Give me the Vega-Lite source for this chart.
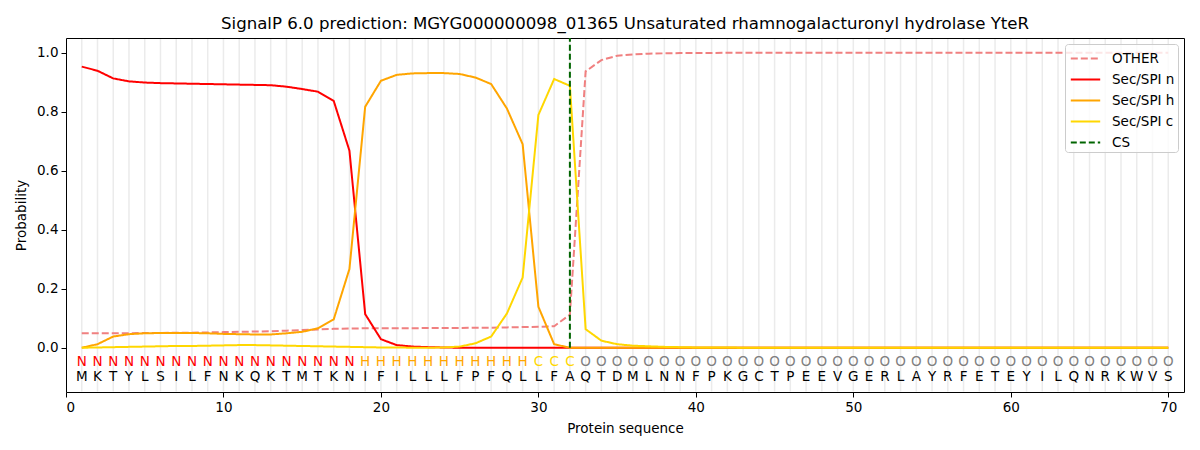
{
  "$schema": "https://vega.github.io/schema/vega-lite/v6.json",
  "width": 1118,
  "height": 354,
  "autosize": "none",
  "padding": {"left": 66, "top": 38, "right": 16, "bottom": 58},
  "title": {
    "text": "SignalP 6.0 prediction: MGYG000000098_01365 Unsaturated rhamnogalacturonyl hydrolase YteR",
    "fontSize": 16.6,
    "fontWeight": "normal",
    "color": "black",
    "anchor": "middle",
    "frame": "group",
    "offset": 5,
    "dy": 17,
    "baseline": "bottom"
  },
  "config": {
    "font": "DejaVu Sans",
    "view": {"stroke": "black", "strokeWidth": 1},
    "axis": {
      "domain": false,
      "grid": false,
      "tickColor": "black",
      "tickSize": 5,
      "tickWidth": 1,
      "labelColor": "black",
      "labelFontSize": 13.5,
      "labelPadding": 3,
      "titleColor": "black",
      "titleFontSize": 13.5,
      "titleFontWeight": "normal"
    },
    "legend": {
      "orient": "top-right",
      "offset": 6,
      "title": null,
      "fillColor": "rgba(255,255,255,0.8)",
      "strokeColor": "#cccccc",
      "cornerRadius": 3,
      "padding": 3,
      "labelFontSize": 13.5,
      "labelColor": "black",
      "symbolType": "M-1.4,0L1.4,0",
      "symbolSize": 441,
      "symbolStrokeWidth": 2,
      "symbolOffset": 6,
      "rowPadding": 3,
      "labelOffset": 15
    }
  },
  "datasets": {
    "seq": [
      {"pos":1,"aa":"M","lab":"N"},{"pos":2,"aa":"K","lab":"N"},{"pos":3,"aa":"T","lab":"N"},{"pos":4,"aa":"Y","lab":"N"},{"pos":5,"aa":"L","lab":"N"},
      {"pos":6,"aa":"S","lab":"N"},{"pos":7,"aa":"I","lab":"N"},{"pos":8,"aa":"L","lab":"N"},{"pos":9,"aa":"F","lab":"N"},{"pos":10,"aa":"N","lab":"N"},
      {"pos":11,"aa":"K","lab":"N"},{"pos":12,"aa":"Q","lab":"N"},{"pos":13,"aa":"K","lab":"N"},{"pos":14,"aa":"T","lab":"N"},{"pos":15,"aa":"M","lab":"N"},
      {"pos":16,"aa":"T","lab":"N"},{"pos":17,"aa":"K","lab":"N"},{"pos":18,"aa":"N","lab":"N"},{"pos":19,"aa":"I","lab":"H"},{"pos":20,"aa":"F","lab":"H"},
      {"pos":21,"aa":"I","lab":"H"},{"pos":22,"aa":"L","lab":"H"},{"pos":23,"aa":"L","lab":"H"},{"pos":24,"aa":"L","lab":"H"},{"pos":25,"aa":"F","lab":"H"},
      {"pos":26,"aa":"P","lab":"H"},{"pos":27,"aa":"F","lab":"H"},{"pos":28,"aa":"Q","lab":"H"},{"pos":29,"aa":"L","lab":"H"},{"pos":30,"aa":"L","lab":"C"},
      {"pos":31,"aa":"F","lab":"C"},{"pos":32,"aa":"A","lab":"C"},{"pos":33,"aa":"Q","lab":"O"},{"pos":34,"aa":"T","lab":"O"},{"pos":35,"aa":"D","lab":"O"},
      {"pos":36,"aa":"M","lab":"O"},{"pos":37,"aa":"L","lab":"O"},{"pos":38,"aa":"N","lab":"O"},{"pos":39,"aa":"N","lab":"O"},{"pos":40,"aa":"F","lab":"O"},
      {"pos":41,"aa":"P","lab":"O"},{"pos":42,"aa":"K","lab":"O"},{"pos":43,"aa":"G","lab":"O"},{"pos":44,"aa":"C","lab":"O"},{"pos":45,"aa":"T","lab":"O"},
      {"pos":46,"aa":"P","lab":"O"},{"pos":47,"aa":"E","lab":"O"},{"pos":48,"aa":"E","lab":"O"},{"pos":49,"aa":"V","lab":"O"},{"pos":50,"aa":"G","lab":"O"},
      {"pos":51,"aa":"E","lab":"O"},{"pos":52,"aa":"R","lab":"O"},{"pos":53,"aa":"L","lab":"O"},{"pos":54,"aa":"A","lab":"O"},{"pos":55,"aa":"Y","lab":"O"},
      {"pos":56,"aa":"R","lab":"O"},{"pos":57,"aa":"F","lab":"O"},{"pos":58,"aa":"E","lab":"O"},{"pos":59,"aa":"T","lab":"O"},{"pos":60,"aa":"E","lab":"O"},
      {"pos":61,"aa":"Y","lab":"O"},{"pos":62,"aa":"I","lab":"O"},{"pos":63,"aa":"L","lab":"O"},{"pos":64,"aa":"Q","lab":"O"},{"pos":65,"aa":"N","lab":"O"},
      {"pos":66,"aa":"R","lab":"O"},{"pos":67,"aa":"K","lab":"O"},{"pos":68,"aa":"W","lab":"O"},{"pos":69,"aa":"V","lab":"O"},{"pos":70,"aa":"S","lab":"O"}
    ],
    "probs": [
      {"pos":1,"OTHER":0.049,"Sec/SPI n":0.953,"Sec/SPI h":0.000,"Sec/SPI c":0.000},
      {"pos":2,"OTHER":0.049,"Sec/SPI n":0.939,"Sec/SPI h":0.012,"Sec/SPI c":0.001},
      {"pos":3,"OTHER":0.049,"Sec/SPI n":0.913,"Sec/SPI h":0.038,"Sec/SPI c":0.002},
      {"pos":4,"OTHER":0.049,"Sec/SPI n":0.903,"Sec/SPI h":0.046,"Sec/SPI c":0.003},
      {"pos":5,"OTHER":0.050,"Sec/SPI n":0.899,"Sec/SPI h":0.049,"Sec/SPI c":0.004},
      {"pos":6,"OTHER":0.050,"Sec/SPI n":0.897,"Sec/SPI h":0.050,"Sec/SPI c":0.005},
      {"pos":7,"OTHER":0.051,"Sec/SPI n":0.896,"Sec/SPI h":0.050,"Sec/SPI c":0.006},
      {"pos":8,"OTHER":0.051,"Sec/SPI n":0.895,"Sec/SPI h":0.050,"Sec/SPI c":0.006},
      {"pos":9,"OTHER":0.052,"Sec/SPI n":0.894,"Sec/SPI h":0.049,"Sec/SPI c":0.007},
      {"pos":10,"OTHER":0.053,"Sec/SPI n":0.893,"Sec/SPI h":0.047,"Sec/SPI c":0.008},
      {"pos":11,"OTHER":0.054,"Sec/SPI n":0.892,"Sec/SPI h":0.046,"Sec/SPI c":0.009},
      {"pos":12,"OTHER":0.055,"Sec/SPI n":0.891,"Sec/SPI h":0.045,"Sec/SPI c":0.009},
      {"pos":13,"OTHER":0.056,"Sec/SPI n":0.890,"Sec/SPI h":0.045,"Sec/SPI c":0.008},
      {"pos":14,"OTHER":0.058,"Sec/SPI n":0.885,"Sec/SPI h":0.049,"Sec/SPI c":0.007},
      {"pos":15,"OTHER":0.060,"Sec/SPI n":0.877,"Sec/SPI h":0.054,"Sec/SPI c":0.006},
      {"pos":16,"OTHER":0.062,"Sec/SPI n":0.868,"Sec/SPI h":0.066,"Sec/SPI c":0.005},
      {"pos":17,"OTHER":0.064,"Sec/SPI n":0.837,"Sec/SPI h":0.096,"Sec/SPI c":0.004},
      {"pos":18,"OTHER":0.065,"Sec/SPI n":0.668,"Sec/SPI h":0.267,"Sec/SPI c":0.003},
      {"pos":19,"OTHER":0.066,"Sec/SPI n":0.114,"Sec/SPI h":0.817,"Sec/SPI c":0.002},
      {"pos":20,"OTHER":0.066,"Sec/SPI n":0.029,"Sec/SPI h":0.905,"Sec/SPI c":0.001},
      {"pos":21,"OTHER":0.066,"Sec/SPI n":0.009,"Sec/SPI h":0.925,"Sec/SPI c":0.001},
      {"pos":22,"OTHER":0.066,"Sec/SPI n":0.004,"Sec/SPI h":0.930,"Sec/SPI c":0.000},
      {"pos":23,"OTHER":0.067,"Sec/SPI n":0.002,"Sec/SPI h":0.931,"Sec/SPI c":0.000},
      {"pos":24,"OTHER":0.067,"Sec/SPI n":0.001,"Sec/SPI h":0.931,"Sec/SPI c":0.001},
      {"pos":25,"OTHER":0.067,"Sec/SPI n":0.000,"Sec/SPI h":0.928,"Sec/SPI c":0.004},
      {"pos":26,"OTHER":0.068,"Sec/SPI n":0.000,"Sec/SPI h":0.916,"Sec/SPI c":0.015},
      {"pos":27,"OTHER":0.068,"Sec/SPI n":0.000,"Sec/SPI h":0.894,"Sec/SPI c":0.038},
      {"pos":28,"OTHER":0.069,"Sec/SPI n":0.000,"Sec/SPI h":0.811,"Sec/SPI c":0.116},
      {"pos":29,"OTHER":0.070,"Sec/SPI n":0.000,"Sec/SPI h":0.690,"Sec/SPI c":0.238},
      {"pos":30,"OTHER":0.071,"Sec/SPI n":0.000,"Sec/SPI h":0.139,"Sec/SPI c":0.789},
      {"pos":31,"OTHER":0.073,"Sec/SPI n":0.000,"Sec/SPI h":0.012,"Sec/SPI c":0.911},
      {"pos":32,"OTHER":0.112,"Sec/SPI n":0.000,"Sec/SPI h":0.000,"Sec/SPI c":0.888},
      {"pos":33,"OTHER":0.937,"Sec/SPI n":0.000,"Sec/SPI h":0.000,"Sec/SPI c":0.063},
      {"pos":34,"OTHER":0.975,"Sec/SPI n":0.000,"Sec/SPI h":0.000,"Sec/SPI c":0.024},
      {"pos":35,"OTHER":0.990,"Sec/SPI n":0.000,"Sec/SPI h":0.000,"Sec/SPI c":0.012},
      {"pos":36,"OTHER":0.994,"Sec/SPI n":0.000,"Sec/SPI h":0.000,"Sec/SPI c":0.007},
      {"pos":37,"OTHER":0.997,"Sec/SPI n":0.000,"Sec/SPI h":0.000,"Sec/SPI c":0.005},
      {"pos":38,"OTHER":0.998,"Sec/SPI n":0.000,"Sec/SPI h":0.000,"Sec/SPI c":0.003},
      {"pos":39,"OTHER":0.999,"Sec/SPI n":0.000,"Sec/SPI h":0.000,"Sec/SPI c":0.002},
      {"pos":40,"OTHER":0.999,"Sec/SPI n":0.000,"Sec/SPI h":0.000,"Sec/SPI c":0.001},
      {"pos":41,"OTHER":0.999,"Sec/SPI n":0.000,"Sec/SPI h":0.000,"Sec/SPI c":0.001},
      {"pos":42,"OTHER":1.000,"Sec/SPI n":0.000,"Sec/SPI h":0.000,"Sec/SPI c":0.001},
      {"pos":43,"OTHER":1.000,"Sec/SPI n":0.000,"Sec/SPI h":0.000,"Sec/SPI c":0.000},
      {"pos":44,"OTHER":1.000,"Sec/SPI n":0.000,"Sec/SPI h":0.000,"Sec/SPI c":0.000},
      {"pos":45,"OTHER":1.000,"Sec/SPI n":0.000,"Sec/SPI h":0.000,"Sec/SPI c":0.000},
      {"pos":46,"OTHER":1.000,"Sec/SPI n":0.000,"Sec/SPI h":0.000,"Sec/SPI c":0.000},
      {"pos":47,"OTHER":1.000,"Sec/SPI n":0.000,"Sec/SPI h":0.000,"Sec/SPI c":0.000},
      {"pos":48,"OTHER":1.000,"Sec/SPI n":0.000,"Sec/SPI h":0.000,"Sec/SPI c":0.000},
      {"pos":49,"OTHER":1.000,"Sec/SPI n":0.000,"Sec/SPI h":0.000,"Sec/SPI c":0.000},
      {"pos":50,"OTHER":1.000,"Sec/SPI n":0.000,"Sec/SPI h":0.000,"Sec/SPI c":0.000},
      {"pos":51,"OTHER":1.000,"Sec/SPI n":0.000,"Sec/SPI h":0.000,"Sec/SPI c":0.000},
      {"pos":52,"OTHER":1.000,"Sec/SPI n":0.000,"Sec/SPI h":0.000,"Sec/SPI c":0.000},
      {"pos":53,"OTHER":1.000,"Sec/SPI n":0.000,"Sec/SPI h":0.000,"Sec/SPI c":0.000},
      {"pos":54,"OTHER":1.000,"Sec/SPI n":0.000,"Sec/SPI h":0.000,"Sec/SPI c":0.000},
      {"pos":55,"OTHER":1.000,"Sec/SPI n":0.000,"Sec/SPI h":0.000,"Sec/SPI c":0.000},
      {"pos":56,"OTHER":1.000,"Sec/SPI n":0.000,"Sec/SPI h":0.000,"Sec/SPI c":0.000},
      {"pos":57,"OTHER":1.000,"Sec/SPI n":0.000,"Sec/SPI h":0.000,"Sec/SPI c":0.000},
      {"pos":58,"OTHER":1.000,"Sec/SPI n":0.000,"Sec/SPI h":0.000,"Sec/SPI c":0.000},
      {"pos":59,"OTHER":1.000,"Sec/SPI n":0.000,"Sec/SPI h":0.000,"Sec/SPI c":0.000},
      {"pos":60,"OTHER":1.000,"Sec/SPI n":0.000,"Sec/SPI h":0.000,"Sec/SPI c":0.000},
      {"pos":61,"OTHER":1.000,"Sec/SPI n":0.000,"Sec/SPI h":0.000,"Sec/SPI c":0.000},
      {"pos":62,"OTHER":1.000,"Sec/SPI n":0.000,"Sec/SPI h":0.000,"Sec/SPI c":0.000},
      {"pos":63,"OTHER":1.000,"Sec/SPI n":0.000,"Sec/SPI h":0.000,"Sec/SPI c":0.000},
      {"pos":64,"OTHER":1.000,"Sec/SPI n":0.000,"Sec/SPI h":0.000,"Sec/SPI c":0.000},
      {"pos":65,"OTHER":1.000,"Sec/SPI n":0.000,"Sec/SPI h":0.000,"Sec/SPI c":0.000},
      {"pos":66,"OTHER":1.000,"Sec/SPI n":0.000,"Sec/SPI h":0.000,"Sec/SPI c":0.000},
      {"pos":67,"OTHER":1.000,"Sec/SPI n":0.000,"Sec/SPI h":0.000,"Sec/SPI c":0.000},
      {"pos":68,"OTHER":1.000,"Sec/SPI n":0.000,"Sec/SPI h":0.000,"Sec/SPI c":0.000},
      {"pos":69,"OTHER":1.000,"Sec/SPI n":0.000,"Sec/SPI h":0.000,"Sec/SPI c":0.000},
      {"pos":70,"OTHER":1.000,"Sec/SPI n":0.000,"Sec/SPI h":0.000,"Sec/SPI c":0.000}
    ],
    "cs": [{"pos": 32, "series": "CS"}]
  },
  "encoding": {
    "x": {
      "field": "pos",
      "type": "quantitative",
      "scale": {"domain": [0, 71], "nice": false, "zero": false},
      "axis": {"title": "Protein sequence", "values": [0,10,20,30,40,50,60,70], "titlePadding": 8}
    }
  },
  "layer": [
    {
      "data": {"name": "seq"},
      "mark": {"type": "rule", "color": "#ebebeb", "strokeWidth": 1.5},
      "encoding": {
        "y": {"datum": -0.148, "type": "quantitative"},
        "y2": {"datum": 1.047}
      }
    },
    {
      "data": {"name": "probs"},
      "transform": [{"fold": ["OTHER", "Sec/SPI n", "Sec/SPI h", "Sec/SPI c"], "as": ["series", "prob"]}],
      "mark": {"type": "line", "strokeWidth": 2},
      "encoding": {
        "y": {
          "field": "prob",
          "type": "quantitative",
          "scale": {"domain": [-0.15, 1.05], "nice": false, "zero": false},
          "axis": {"title": "Probability", "values": [0, 0.2, 0.4, 0.6, 0.8, 1.0], "format": ".1f", "titlePadding": 8}
        },
        "color": {
          "field": "series",
          "type": "nominal",
          "scale": {
            "domain": ["OTHER", "Sec/SPI n", "Sec/SPI h", "Sec/SPI c", "CS"],
            "range": ["#f08080", "#ff0000", "#ffa500", "#ffd700", "#006400"]
          }
        },
        "strokeDash": {
          "field": "series",
          "type": "nominal",
          "scale": {
            "domain": ["OTHER", "Sec/SPI n", "Sec/SPI h", "Sec/SPI c", "CS"],
            "range": [[7, 3], [1, 0], [1, 0], [1, 0], [6, 3]]
          }
        },
        "order": {"field": "pos", "type": "quantitative"}
      }
    },
    {
      "data": {"name": "cs"},
      "mark": {"type": "rule", "strokeWidth": 2},
      "encoding": {
        "y": {"datum": 0, "type": "quantitative"},
        "y2": {"datum": 1.05},
        "color": {
          "field": "series",
          "type": "nominal",
          "scale": {
            "domain": ["OTHER", "Sec/SPI n", "Sec/SPI h", "Sec/SPI c", "CS"],
            "range": ["#f08080", "#ff0000", "#ffa500", "#ffd700", "#006400"]
          }
        },
        "strokeDash": {
          "field": "series",
          "type": "nominal",
          "scale": {
            "domain": ["OTHER", "Sec/SPI n", "Sec/SPI h", "Sec/SPI c", "CS"],
            "range": [[7, 3], [1, 0], [1, 0], [1, 0], [6, 3]]
          }
        }
      }
    },
    {
      "data": {"name": "seq"},
      "mark": {"type": "text", "fontSize": 13.5, "align": "center", "baseline": "middle"},
      "encoding": {
        "y": {"datum": -0.047, "type": "quantitative"},
        "text": {"field": "lab"},
        "color": {
          "condition": [
            {"test": "datum.lab === 'N'", "value": "#ff0000"},
            {"test": "datum.lab === 'H'", "value": "#ffa500"},
            {"test": "datum.lab === 'C'", "value": "#ffd700"}
          ],
          "value": "#808080"
        }
      }
    },
    {
      "data": {"name": "seq"},
      "mark": {"type": "text", "fontSize": 13.5, "align": "center", "baseline": "middle", "color": "black"},
      "encoding": {
        "y": {"datum": -0.1, "type": "quantitative"},
        "text": {"field": "aa"}
      }
    }
  ]
}
